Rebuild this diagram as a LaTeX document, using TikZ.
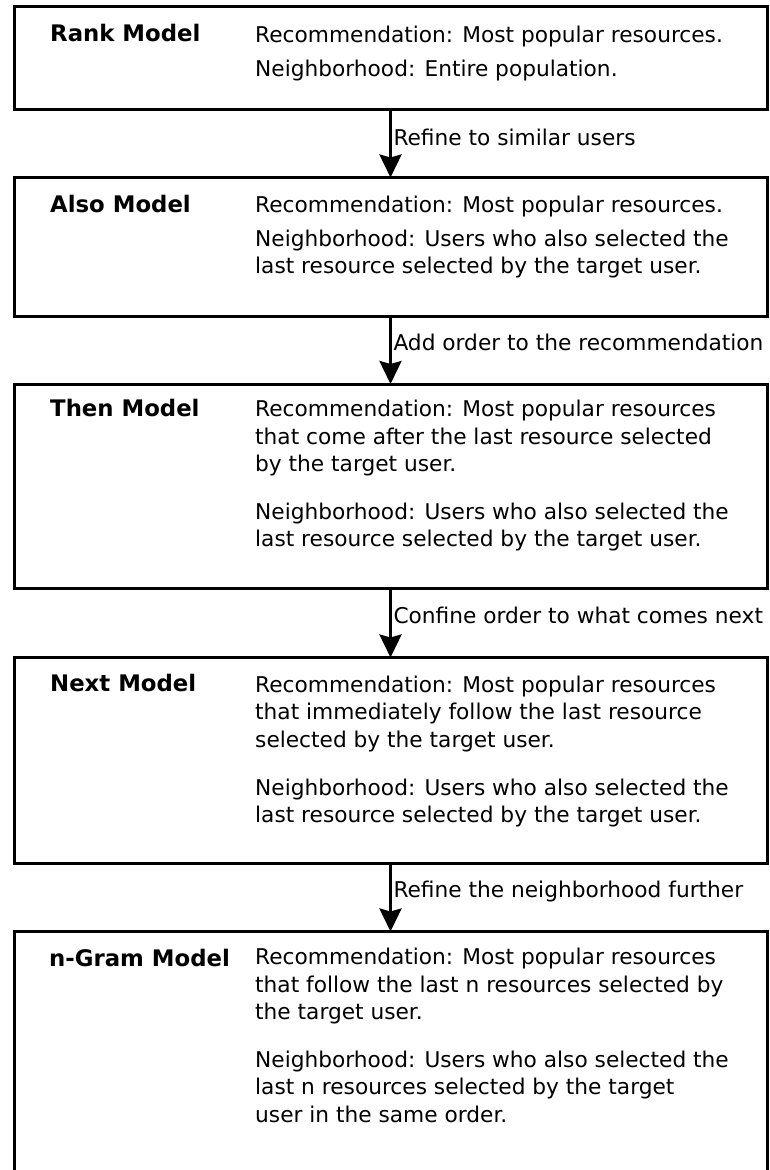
\documentclass[tikz,border=0pt]{standalone}
\usepackage{fontspec}
\setmainfont{DejaVu Sans}
\usetikzlibrary{arrows.meta, positioning}

\tikzset{
  modelbox/.style={draw, line width=3pt, minimum width=753pt, anchor=north west, inner sep=0pt, outer sep=0pt},
  modelname/.style={anchor=base west, inner sep=0pt, font=\fontsize{22.8}{27}\selectfont\bfseries},
  % multi-line text: placed at the baseline of its last line
  modeltext/.style={anchor=base west, inner sep=0pt, align=left, font=\fontsize{21.7}{27.3}\selectfont},
  steplabel/.style={anchor=base west, inner sep=0pt, xshift=1.5pt, font=\fontsize{21.7}{27.3}\selectfont},
  refine/.style={line width=3pt, -{Stealth[length=23pt, width=22pt, inset=3pt]}}
}

\begin{document}
\begin{tikzpicture}[x=1pt, y=-1pt]
   \useasboundingbox (0,0) rectangle (770,1170);
   \clip (0,0) rectangle (770,1170);
   % Boxes, top to bottom
   \node[modelbox, minimum height=102.5pt] (rank) at (14,6.5) {};
   \node[modelbox, minimum height=138.5pt] (also) at (14,177.5) {};
   \node[modelbox, minimum height=204.5pt] (then) at (14,384) {};
   \node[modelbox, minimum height=206pt] (next) at (14,657.5) {};
   % last one runs off the page
   \node[modelbox, minimum height=300pt] (ngram) at (14,931.5) {};
   % Model names
   \node[modelname] (rankname) at (50,41.7) {Rank Model};
   \node[modelname] (alsoname) at (50,212.7) {Also Model};
   \node[modelname] (thenname) at (50,416.7) {Then Model};
   \node[modelname] (nextname) at (50,691.2) {Next Model};
   \node[modelname] (ngramname) at (49,966.7) {n-Gram Model};
   % Descriptions
   \node[modeltext] (ranktext) at (255,76) {Recommendation: Most popular resources.\\[6.7pt]
      Neighborhood: Entire population.};
   \node[modeltext] (alsotext) at (255,273.3) {Recommendation: Most popular resources.\\[6.7pt]
      Neighborhood: Users who also selected the\\
      last resource selected by the target user.};
   \node[modeltext] (thentext) at (255,546.7) {Recommendation: Most popular resources\\
      that come after the last resource selected\\
      by the target user.\\[20.7pt]
      Neighborhood: Users who also selected the\\
      last resource selected by the target user.};
   \node[modeltext] (nexttext) at (255,822.3) {Recommendation: Most popular resources\\
      that immediately follow the last resource\\
      selected by the target user.\\[20.7pt]
      Neighborhood: Users who also selected the\\
      last resource selected by the target user.};
   \node[modeltext] (ngramtext) at (255,1122) {Recommendation: Most popular resources\\
      that follow the last n resources selected by\\
      the target user.\\[20.7pt]
      Neighborhood: Users who also selected the\\
      last n resources selected by the target\\
      user in the same order.};
   % Refinement steps
   \draw[refine] (rank) -- node[steplabel, yshift=-2pt] {Refine to similar users} (also);
   \draw[refine] (also) -- node[steplabel] {Add order to the recommendation} (then);
   \draw[refine] (then) -- node[steplabel] {Confine order to what comes next} (next);
   \draw[refine] (next) -- node[steplabel] {Refine the neighborhood further} (ngram);
\end{tikzpicture}
\end{document}
